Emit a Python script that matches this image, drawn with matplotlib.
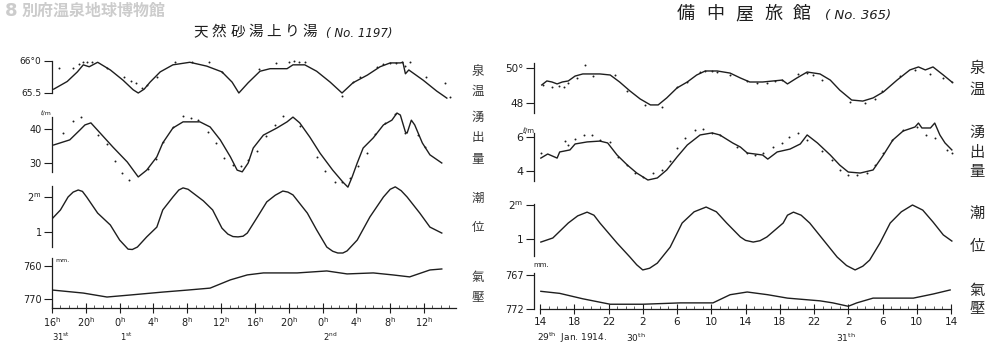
import matplotlib.pyplot as plt

plt.rcParams['font.family'] = ['DejaVu Sans', 'Noto Sans CJK JP']
plt.rcParams['mathtext.fontset'] = 'dejavusans'

# ---------------- left: 天然砂湯上り湯 (hours from 16h on the 31st)
suna_temp_t = [0.2, 1.8, 3.0, 3.7, 4.4, 5.4, 6.9, 8.4, 9.6, 10.2, 10.9, 11.6, 12.8, 14.3, 16.3, 18.3, 20.1, 21.3, 22.1, 23.2,
               24.6, 25.8, 27.8, 28.5, 29.9, 31.3, 32.9, 34.3, 35.6, 37.3, 38.8, 40.0, 41.2, 41.5, 41.8, 42.2, 43.9, 45.5, 46.7]
suna_temp = [65.56, 65.68, 65.83, 65.94, 65.91, 65.98, 65.86, 65.70, 65.55, 65.50, 65.56, 65.67, 65.83, 65.94, 65.98, 65.92,
             65.83, 65.67, 65.50, 65.66, 65.84, 65.88, 65.88, 65.94, 65.94, 65.84, 65.67, 65.50, 65.66, 65.78, 65.91, 65.97,
             65.97, 65.98, 65.80, 65.86, 65.70, 65.53, 65.42]
suna_temp_dot_t = [0.8, 2.5, 3.2, 3.7, 4.1, 4.7, 6.5, 8.5, 9.3, 9.9, 10.6, 11.2, 12.4, 14.6, 16.6, 18.6, 20.1, 24.5,
                   26.5, 28.0, 28.6, 29.2, 29.9, 34.3, 35.6, 36.4, 38.4, 39.2, 40.0, 40.7, 41.4, 41.8, 42.3, 44.2, 46.5, 47.1]
suna_temp_dot = [65.89, 65.89, 65.95, 65.98, 65.98, 65.98, 65.89, 65.75, 65.69, 65.66, 65.58, 65.63, 65.75, 65.98, 65.98,
                 65.98, 65.83, 65.88, 65.97, 65.98, 66.00, 65.98, 65.98, 65.45, 65.67, 65.75, 65.91, 65.95, 65.97, 65.97,
                 65.98, 65.92, 65.98, 65.75, 65.66, 65.44]

suna_flow_t = [0.2, 2.1, 3.3, 3.9, 4.6, 5.7, 7.2, 8.9, 10.2, 11.2, 12.4, 13.1, 14.3, 15.5, 17.5, 18.7, 19.9, 21.1, 21.9, 22.5,
               23.2, 23.8, 25.0, 26.6, 27.8, 28.5, 29.3, 30.5, 31.7, 33.2, 34.4, 35.0, 35.5, 36.1, 36.8, 38.0, 39.2, 40.2,
               40.8, 41.2, 41.8, 42.0, 42.5, 42.9, 43.8, 44.7, 46.1]
suna_flow = [35.3, 36.8, 39.7, 41.2, 41.8, 38.8, 34.7, 30.3, 25.9, 27.9, 31.8, 35.9, 40.3, 42.1, 42.1, 40.6, 36.8, 31.8,
             27.9, 27.4, 30.0, 34.4, 38.2, 40.3, 42.1, 43.5, 41.8, 37.6, 32.9, 27.9, 24.4, 22.9, 25.9, 30.0, 34.4, 37.4,
             41.2, 42.6, 44.7, 44.1, 39.1, 38.8, 42.6, 41.2, 35.9, 32.4, 30.0]
suna_flow_dot_t = [1.3, 2.5, 3.4, 5.4, 6.5, 7.5, 8.3, 9.1, 11.4, 12.3, 13.1, 14.3, 15.5, 16.4, 17.3, 18.5, 19.4, 20.3,
                   21.4, 22.4, 23.2, 24.3, 25.3, 26.4, 27.3, 29.3, 31.3, 32.3, 33.5, 34.3, 35.2, 36.2, 37.3, 38.2, 39.4,
                   40.6, 41.8, 43.3, 44.1]
suna_flow_dot = [38.8, 42.4, 43.5, 38.2, 35.6, 30.6, 27.1, 25.0, 28.2, 31.2, 36.2, 40.6, 43.8, 43.2, 42.6, 39.1, 35.9,
                 31.5, 29.4, 29.1, 30.9, 33.5, 37.9, 41.2, 43.8, 40.9, 31.8, 27.6, 24.4, 24.4, 25.6, 29.1, 32.9, 38.5,
                 41.8, 44.4, 38.8, 38.2, 34.7]

suna_tide_t = [0.1, 1.0, 1.9, 2.5, 3.1, 3.6, 4.1, 5.4, 6.9, 8.0, 9.0, 9.5, 10.1, 11.2, 12.4, 13.1, 14.3, 15.0, 15.5,
               16.1, 16.7, 17.9, 19.0, 20.1, 20.8, 21.4, 22.0, 22.6, 23.1, 24.3, 25.4, 26.4, 27.3, 27.9, 28.5, 30.2,
               31.3, 32.5, 33.2, 33.8, 34.4, 34.9, 36.1, 37.6, 39.2, 40.0, 40.6, 41.3, 42.0, 43.5, 44.7, 46.1]
suna_tide = [1.40, 1.63, 2.00, 2.14, 2.20, 2.16, 2.00, 1.54, 1.20, 0.77, 0.51, 0.50, 0.57, 0.86, 1.14, 1.63, 2.00, 2.20,
             2.26, 2.22, 2.11, 1.89, 1.63, 1.11, 0.94, 0.87, 0.86, 0.88, 0.97, 1.43, 1.86, 2.05, 2.17, 2.14, 2.06, 1.54,
             1.06, 0.57, 0.45, 0.40, 0.40, 0.46, 0.77, 1.43, 2.00, 2.22, 2.29, 2.18, 2.00, 1.54, 1.14, 0.97]

suna_pres_t = [0.1, 3.7, 6.5, 9.2, 13.1, 16.0, 18.7, 21.1, 23.1, 25.0, 29.0, 32.5, 34.9, 38.0, 40.3, 42.3, 44.7, 46.1]
suna_pres = [767.3, 768.2, 769.4, 768.8, 767.9, 767.3, 766.7, 764.2, 762.7, 762.1, 762.1, 761.5, 762.4, 762.1, 762.7,
             763.3, 761.2, 760.9]

suna_ticks = [0, 4, 8, 12, 16, 20, 24, 28, 32, 36, 40, 44]
suna_ticklabels = ['16', '20', '0', '4', '8', '12', '16', '20', '0', '4', '8', '12']
suna_days = [(0, '31$^{\\rm st}$'), (8, '1$^{\\rm st}$'), (32, '2$^{\\rm nd}$')]

# ---------------- right: 備中屋旅館 (hours from 14h on the 29th)
bic_temp_t = [0.2, 0.8, 1.4, 2.0, 2.6, 3.3, 4.1, 5.0, 7.0, 8.2, 9.3, 10.5, 11.7, 12.9, 13.8, 14.8, 16.0, 17.2, 18.3,
              19.3, 20.7, 22.2, 23.4, 24.5, 26.0, 28.3, 28.9, 30.0, 31.2, 32.7, 33.9, 35.0, 36.4, 37.7, 38.9, 40.1,
              41.7, 43.2, 44.2, 45.0, 45.9, 47.1, 48.1]
bic_temp = [49.03, 49.26, 49.20, 49.09, 49.20, 49.26, 49.54, 49.66, 49.66, 49.60, 49.20, 48.69, 48.23, 47.89, 47.89,
            48.29, 48.86, 49.20, 49.60, 49.83, 49.83, 49.71, 49.43, 49.20, 49.20, 49.31, 49.09, 49.43, 49.77, 49.66,
            49.31, 48.74, 48.17, 48.11, 48.29, 48.63, 49.31, 49.89, 50.06, 49.89, 50.06, 49.60, 49.20]
bic_temp_dot_t = [0.4, 1.4, 2.2, 2.8, 3.3, 4.3, 5.3, 6.2, 8.8, 10.2, 12.3, 14.3, 16.0, 17.2, 18.7, 19.3, 20.1, 20.7,
                  22.2, 24.2, 25.3, 26.5, 27.5, 28.3, 30.1, 31.2, 31.9, 32.9, 36.2, 38.0, 39.1, 39.9, 42.0, 43.8,
                  45.6, 47.1, 48.1]
bic_temp_dot = [49.03, 48.91, 48.97, 48.91, 49.14, 49.43, 50.17, 49.54, 49.60, 48.69, 47.89, 47.77, 48.91, 49.20,
                49.77, 49.83, 49.83, 49.77, 49.60, 49.26, 49.14, 49.14, 49.26, 49.31, 49.66, 49.71, 49.60, 49.31,
                48.06, 48.00, 48.23, 48.69, 49.54, 49.89, 49.66, 49.43, 49.20]

bic_flow_t = [0.1, 0.9, 2.0, 2.3, 3.5, 4.1, 5.5, 7.0, 7.9, 9.0, 10.2, 11.3, 12.6, 13.7, 14.8, 16.0, 17.2, 18.7, 20.1,
              21.0, 22.5, 23.4, 24.2, 26.0, 26.6, 27.7, 29.2, 30.4, 31.2, 32.4, 33.9, 35.0, 36.0, 37.4, 38.9, 40.1,
              41.2, 42.4, 43.8, 44.2, 44.6, 45.6, 46.1, 46.7, 47.3, 48.1]
bic_flow = [4.76, 5.00, 4.76, 5.12, 5.24, 5.59, 5.71, 5.76, 5.65, 4.94, 4.35, 3.88, 3.47, 3.59, 4.06, 4.82, 5.53, 6.12,
            6.24, 6.12, 5.65, 5.41, 5.06, 4.94, 4.70, 5.12, 5.29, 5.59, 6.12, 5.65, 4.94, 4.35, 3.94, 3.88, 4.06, 4.94,
            5.82, 6.35, 6.59, 6.82, 6.53, 6.53, 6.82, 6.12, 5.65, 5.24]
bic_flow_dot_t = [0.1, 2.9, 3.3, 4.1, 5.1, 6.1, 7.0, 8.2, 9.1, 10.2, 11.1, 12.0, 13.2, 14.3, 15.2, 16.0, 16.9, 18.1,
                  19.0, 20.1, 21.0, 23.0, 24.2, 25.1, 26.0, 27.2, 28.3, 29.1, 30.1, 31.2, 32.9, 34.1, 35.0, 36.0,
                  37.0, 38.2, 39.1, 40.1, 41.1, 42.4, 44.0, 45.1, 46.1, 47.5, 48.1]
bic_flow_dot = [5.06, 5.76, 5.53, 5.88, 6.12, 6.12, 5.82, 5.71, 4.82, 4.35, 3.88, 3.65, 3.88, 4.06, 4.59, 5.35, 5.94,
                6.41, 6.47, 6.24, 6.12, 5.41, 5.06, 4.94, 5.06, 5.41, 5.65, 6.00, 6.24, 5.82, 5.18, 4.65, 4.06, 3.76,
                3.76, 3.88, 4.35, 5.06, 5.82, 6.41, 6.59, 6.12, 5.94, 5.24, 5.06]

bic_tide_t = [0.1, 1.5, 3.3, 4.4, 5.5, 6.3, 7.0, 9.0, 10.5, 11.3, 12.0, 12.8, 13.7, 15.2, 16.6, 18.0, 19.4, 20.6, 21.8,
              23.4, 24.0, 24.9, 25.7, 26.5, 28.4, 28.9, 29.6, 30.5, 31.5, 33.1, 34.7, 35.8, 36.8, 37.7, 38.5, 39.7,
              40.9, 42.2, 43.5, 44.7, 45.9, 47.1, 48.1]
bic_tide = [0.91, 1.03, 1.47, 1.68, 1.79, 1.70, 1.47, 0.88, 0.47, 0.24, 0.09, 0.14, 0.29, 0.76, 1.47, 1.80, 1.94, 1.80,
            1.47, 1.06, 0.96, 0.91, 0.95, 1.06, 1.47, 1.70, 1.79, 1.70, 1.47, 0.97, 0.47, 0.22, 0.09, 0.20, 0.38, 0.88,
            1.47, 1.80, 2.00, 1.85, 1.50, 1.12, 0.94]

bic_pres_t = [0.1, 2.3, 5.0, 8.2, 12.0, 16.4, 20.2, 22.2, 24.2, 26.6, 28.9, 32.7, 34.2, 36.0, 37.0, 38.9, 41.2, 43.6,
              45.9, 47.9]
bic_pres = [769.4, 769.7, 770.5, 771.3, 771.3, 771.1, 771.1, 769.9, 769.5, 769.9, 770.4, 770.8, 771.1, 771.6, 771.1,
            770.4, 770.4, 770.4, 769.8, 769.2]

bic_ticks = [0, 4, 8, 12, 16, 20, 24, 28, 32, 36, 40, 44, 48]
bic_ticklabels = ['14', '18', '22', '2', '6', '10', '14', '18', '22', '2', '6', '10', '14']
bic_days = [(-0.3, '29$^{\\rm th}$  Jan. 1914.'), (10.0, '30$^{\\rm th}$'), (34.6, '31$^{\\rm th}$')]

INK = '#1e1e1e'
W, H = 1000, 353
fig = plt.figure(figsize=(W / 100, H / 100), dpi=100)


def ftext(x, y, s, **kw):
    kw.setdefault('color', INK)
    fig.text(x / W, 1 - y / H, s, ha=kw.pop('ha', 'center'), va=kw.pop('va', 'center'), **kw)


def row(box, t0_px, px_per_h, cal, spine_px, ticklabels, t, v, dt=None, dv=None, fs=7):
    left, right, top, bottom = box
    ax = fig.add_axes([left / W, 1 - bottom / H, (right - left) / W, (bottom - top) / H])
    ax.patch.set_alpha(0)
    ax.set_xlim((left - t0_px) / px_per_h, (right - t0_px) / px_per_h)
    (v0, y0), (v1, y1) = cal
    k = (v1 - v0) / (y1 - y0)
    ax.set_ylim(v0 + (bottom - y0) * k, v0 + (top - y0) * k)
    b = sorted([v0 + (spine_px[0] - y0) * k, v0 + (spine_px[1] - y0) * k])
    for s in ['top', 'right', 'bottom']:
        ax.spines[s].set_visible(False)
    ax.spines['left'].set_bounds(b[0], b[1])
    ax.spines['left'].set_linewidth(0.9)
    ax.spines['left'].set_color(INK)
    ax.set_yticks([v0, v1], ticklabels)
    ax.tick_params(axis='y', direction='out', length=6, width=0.8, pad=1.5, labelsize=fs,
                   colors=INK)
    ax.set_xticks([])
    ax.plot(t, v, color=INK, lw=1.0, clip_on=False)
    if dt is not None:
        ax.scatter(dt, dv, s=2, color=INK, linewidths=0, clip_on=False)
    return ax


def bottom_axis(ax, t_end, ticks, labels, days, fs):
    ax.spines['bottom'].set_visible(True)
    ax.spines['bottom'].set_bounds(0, t_end)
    ax.spines['bottom'].set_linewidth(0.9)
    ax.spines['bottom'].set_color(INK)
    ax.set_xticks(ticks, labels)
    ax.set_xticks(range(0, int(t_end) + 1), minor=True)
    ax.tick_params(axis='x', which='major', direction='inout', length=7, width=0.8, pad=2,
                   labelsize=fs, colors=INK)
    ax.tick_params(axis='x', which='minor', direction='in', length=2, width=0.5, colors=INK)
    for x, s in days:
        ax.annotate(s, xy=(x, 0), xycoords=ax.get_xaxis_transform(), xytext=(0, -29),
                    textcoords='offset pixels', ha='left', va='center', fontsize=fs - 1, color=INK)


# left panel
L_box = (52, 470, 40, 308)
L_t0, L_k = 52, 8.455
row(L_box, L_t0, L_k, ((66.0, 61), (65.5, 93)), (61, 93), ['66°0', '65.5'],
    suna_temp_t, suna_temp, suna_temp_dot_t, suna_temp_dot, fs=6.5)
row(L_box, L_t0, L_k, ((40, 129), (30, 163)), (117, 172), ['40', '30'],
    suna_flow_t, suna_flow, suna_flow_dot_t, suna_flow_dot)
row(L_box, L_t0, L_k, ((2, 197), (1, 232)), (186, 247), ['2$^{\\rm m}$', '1'],
    suna_tide_t, suna_tide)
axL = row(L_box, L_t0, L_k, ((760, 266), (770, 299)), (258, 308), ['760', '770'],
          suna_pres_t, suna_pres)
bottom_axis(axL, 47.8, suna_ticks, [s + '$^{\\rm h}$' for s in suna_ticklabels], suna_days, 7)

# right panel
R_box = (534, 975, 40, 309)
R_t0, R_k = 540, 8.5625
row(R_box, R_t0, R_k, ((50, 68), (48, 103)), (63, 113), ['50°', '48'],
    bic_temp_t, bic_temp, bic_temp_dot_t, bic_temp_dot, fs=7.5)
row(R_box, R_t0, R_k, ((6, 137), (4, 171)), (133, 181), ['6', '4'],
    bic_flow_t, bic_flow, bic_flow_dot_t, bic_flow_dot, fs=8)
row(R_box, R_t0, R_k, ((2, 205), (1, 239)), (204, 256), ['2$^{\\rm m}$', '1'],
    bic_tide_t, bic_tide, fs=7.5)
axR = row(R_box, R_t0, R_k, ((767, 275), (772, 309)), (273, 309), ['767', '772'],
          bic_pres_t, bic_pres, fs=7)
bottom_axis(axR, 48, bic_ticks, bic_ticklabels, bic_days, 7.5)

# units
ftext(46, 114, 'ℓ/m', fontsize=4.5)
ftext(62, 261, 'mm.', fontsize=4.5)
ftext(528, 131, 'ℓ/m', fontsize=5)
ftext(541, 265, 'mm.', fontsize=5)

# titles
for i, ch in enumerate('天然砂湯上り湯'):
    ftext(201 + i * 18.2, 32, ch, fontsize=10.5, family=['Noto Sans CJK JP'])
ftext(326, 33, '( No. 1197)', ha='left', fontsize=8.5, style='italic')
for i, ch in enumerate('備中屋旅館'):
    ftext(686 + i * 29, 14, ch, fontsize=13, family=['Noto Sans CJK JP'])
ftext(825, 15, '( No. 365)', ha='left', fontsize=9.5, style='italic')

# vertical side labels
side_left = [('泉', 72), ('温', 91), ('湧', 117), ('出', 138), ('量', 159),
             ('潮', 198), ('位', 228), ('氣', 277), ('壓', 298)]
side_right = [('泉', 69), ('温', 89), ('湧', 132), ('出', 152), ('量', 172),
              ('潮', 213), ('位', 247), ('氣', 290), ('壓', 308)]
for ch, y in side_left:
    ftext(478, y, ch, fontsize=9, color='#3a3a3a', family=['Noto Sans CJK JP'])
for ch, y in side_right:
    ftext(977, y, ch, fontsize=11, color='#2a2a2a', family=['Noto Sans CJK JP'])

# watermark
ftext(11, 11, '8', fontsize=13, weight='bold', color='#cccccc')
ftext(22, 11, '別府温泉地球博物館', ha='left', fontsize=11.5, weight='bold', color='#cccccc',
      family=['Noto Sans CJK JP'])

fig.savefig('out.png', dpi=100, facecolor='white')
